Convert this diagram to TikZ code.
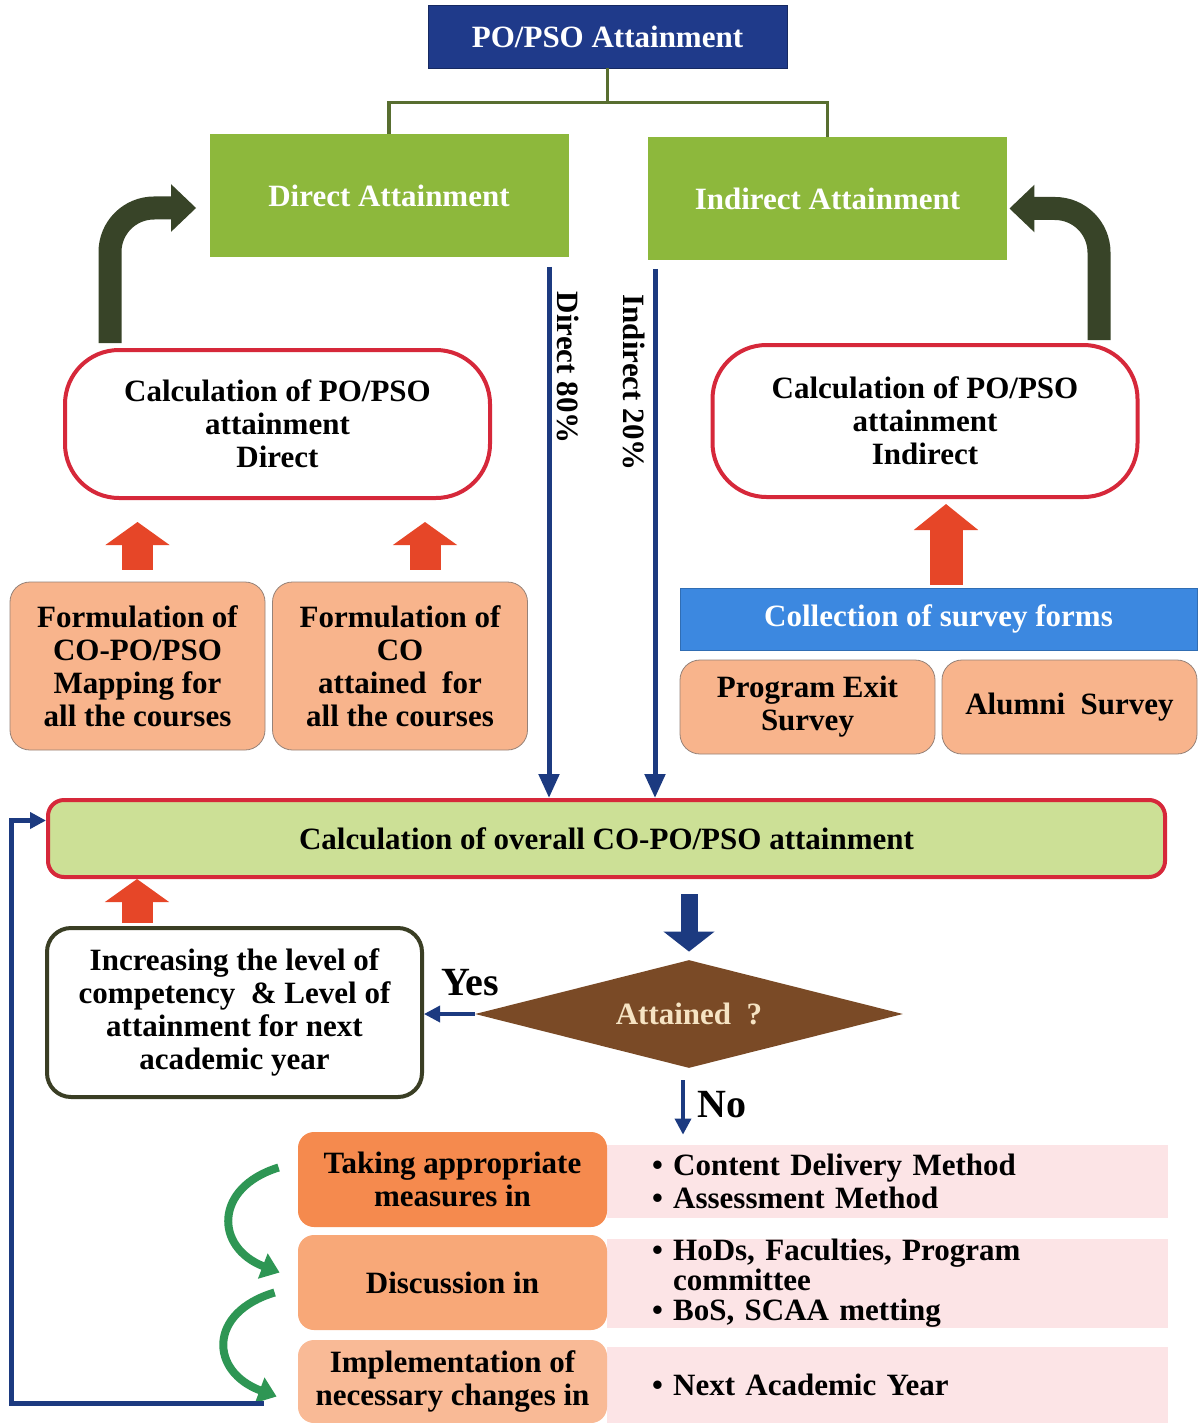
\documentclass[tikz,border=0pt]{standalone}
\usepackage{fontspec}
\setmainfont{Liberation Serif}
\usetikzlibrary{calc, shapes, arrows.meta}

\definecolor{titleblue}{RGB}{31,58,138}
\definecolor{attgreen}{RGB}{141,184,60}
\definecolor{treegreen}{RGB}{88,110,48}
\definecolor{bigdark}{RGB}{56,68,40}
\definecolor{ovalred}{RGB}{214,40,58}
\definecolor{salmon}{RGB}{248,180,140}
\definecolor{salmonline}{RGB}{150,130,120}
\definecolor{surveyblue}{RGB}{60,136,224}
\definecolor{upred}{RGB}{230,70,40}
\definecolor{lineblue}{RGB}{28,58,128}
\definecolor{overallgreen}{RGB}{204,224,150}
\definecolor{diabrown}{RGB}{122,74,38}
\definecolor{diatext}{RGB}{245,227,195}
\definecolor{boxolive}{RGB}{58,62,36}
\definecolor{takeorange}{RGB}{245,138,78}
\definecolor{discorange}{RGB}{248,168,120}
\definecolor{implorange}{RGB}{249,186,150}
\definecolor{bandpink}{RGB}{252,228,230}
\definecolor{arcgreen}{RGB}{46,150,84}

\begin{document}
\begin{tikzpicture}[x=0.5pt, y=-0.5pt, font=\fontsize{15.5}{16.5}\selectfont\bfseries]
\tikzstyle{box}=[draw, align=center, inner sep=2pt]
\tikzstyle{head}=[box, fill=titleblue, draw=titleblue!70!black, text=white, minimum width=179.5pt, minimum height=31.5pt]
\tikzstyle{attain}=[box, fill=attgreen, draw=none, text=white, minimum width=179.5pt, minimum height=61.5pt]
\tikzstyle{oval}=[box, fill=white, draw=ovalred, line width=2pt, rounded corners=27pt, minimum width=212.5pt, minimum height=75pt]
\tikzstyle{form}=[box, fill=salmon, draw=salmonline, rounded corners=10pt, minimum width=127.5pt]
\tikzstyle{stage}=[box, draw=none, rounded corners=8pt, minimum width=154.5pt, minimum height=47.5pt]
\tikzstyle{band}=[fill=bandpink, text width=235.5pt, inner xsep=22.5pt, inner ysep=0pt, align=left]
\tikzstyle{treeline}=[draw=treegreen, line width=1.75pt]
\tikzstyle{bigarrow}=[draw=bigdark, line width=11.5pt, rounded corners=22pt, -{Triangle[length=12.5pt,width=23pt]}]
\tikzstyle{redup}=[draw=upred, line width=15.5pt, -{Triangle[length=11.5pt,width=31.5pt]}]
\tikzstyle{bluearrow}=[draw=lineblue, line width=2.5pt, -{Triangle[length=12pt,width=10pt]}]
\tikzstyle{bluethin}=[draw=lineblue, line width=1.75pt, -{Triangle[length=8pt,width=8pt]}]
\tikzstyle{blueblock}=[draw=lineblue, line width=8.5pt, -{Triangle[length=10pt,width=25pt]}]
\tikzstyle{greenarc}=[draw=arcgreen, line width=4pt, -{Triangle[length=9pt,width=13pt]}]
\tikzstyle{answer}=[font=\fontsize{20}{22}\selectfont\bfseries]

\path[use as bounding box, fill=white] (0,0) rectangle (1199,1423);

\node[head]   (title)    at (607.5,36.5) {PO/PSO Attainment};
\node[attain] (direct)   at (389,196)    {Direct Attainment};
\node[attain] (indirect) at (827.5,198.5) {Indirect Attainment};
\node[oval, minimum height=74pt] (calcD) at (277.5,424) {Calculation of PO/PSO\\attainment\\Direct};
\node[oval, minimum height=76pt] (calcI) at (925,421)   {Calculation of PO/PSO\\attainment\\Indirect};
\node[form, minimum height=84pt] (formA) at (137.5,666) {Formulation of\\CO-PO/PSO\\Mapping for\\all the courses};
\node[form, minimum height=84pt] (formB) at (400,666)   {Formulation of\\CO\\attained\ \ for\\all the courses};
\node[box, fill=surveyblue, draw=surveyblue!80!black, text=white, minimum width=258.5pt, minimum height=31pt] (survey) at (938.5,619) {Collection of survey forms};
\node[form, minimum height=47pt] (exit)   at (807.5,707)  {Program Exit\\Survey};
\node[form, minimum height=47pt] (alumni) at (1069.5,707) {Alumni\ \ Survey};
\node[box, fill=overallgreen, draw=ovalred, line width=2pt, rounded corners=8pt, minimum width=558.5pt, minimum height=38.5pt] (overall) at (606.5,838.5) {Calculation of overall CO-PO/PSO attainment};
\node[diamond, fill=diabrown, text=diatext, aspect=4, minimum width=214pt, minimum height=54pt, inner sep=0pt] (attained) at (689,1014) {Attained\ \ ?};
\node[box, fill=white, draw=boxolive, line width=2pt, rounded corners=12pt, minimum width=187.5pt, minimum height=84.5pt] (incr) at (234.5,1012.5) {Increasing the level of\\competency\ \ \& Level of\\attainment for next\\academic year};
\node[band, minimum height=36.5pt] (list1) at (887.5,1181.5) {\textbullet\ Content Delivery Method\\\textbullet\ Assessment Method};
\node[band, minimum height=41.5pt, font=\fontsize{15.5}{15}\selectfont\bfseries] (list2) at (887.5,1283.5) {\textbullet\ HoDs, Faculties, Program\\\phantom{\textbullet\ }committee\\\textbullet\ BoS, SCAA metting};
\node[band, minimum height=38pt] (list3) at (887.5,1385) {\textbullet\ Next Academic Year};
\node[stage, fill=takeorange] (taking)  at (452.5,1179.5) {Taking appropriate\\measures in};
\node[stage, fill=discorange] (discuss) at (452.5,1282.5) {Discussion in};
\node[stage, fill=implorange, minimum height=41.5pt] (implement) at (452.5,1381.5) {Implementation of\\necessary changes in};
\node[answer] (yes) at (470,983)  {Yes};
\node[answer] (no)  at (722,1105) {No};

\coordinate (split) at ($(title.south)+(0,34)$);
\draw[treeline] (title.south) -- (split) -| (direct.north);
\draw[treeline] (split) -| (indirect.north);

\draw[bigarrow] ($(calcD.north)+(-167.5,-5)$) |- ($(direct.west)+(-13,12)$);
\draw[bigarrow] ($(calcI.north)+(174,-3)$) |- ($(indirect.east)+(2,10)$);

\coordinate (fb) at ($(formB.north)+(25,0)$);
\coordinate (sv) at ($(survey.north)+(7.5,-3)$);
\coordinate (iu) at ($(incr.north)+(-97.5,-3)$);
\draw[redup, shorten <=6pt] (formA.north) -- ($(formA.north |- calcD.south)+(0,22)$);
\draw[redup, shorten <=6pt] (fb) -- ($(fb |- calcD.south)+(0,22)$);
\draw[redup, line width=16.5pt, -{Triangle[length=13pt,width=31.5pt]}] (sv) -- ($(sv |- calcI.south)+(0,5)$);
\draw[redup] (iu) -- (iu |- overall.south);

\coordinate (d80) at ($(direct.south)+(160,9)$);
\coordinate (i20) at ($(indirect.south)+(-172.5,8.5)$);
\draw[bluearrow] (d80) -- (d80 |- overall.north) node[pos=0.19, rotate=-90, anchor=south, inner sep=3pt] (lbl80) {Direct 80\%};
\draw[bluearrow] (i20) -- (i20 |- overall.north) node[pos=0.215, rotate=-90, anchor=north, inner sep=4pt] (lbl20) {Indirect 20\%};

\draw[blueblock, shorten <=7.5pt, shorten >=4pt] (attained.north |- overall.south) -- (attained.north);
\draw[bluethin] (attained.west) -- (attained.west -| incr.east);
\coordinate (nofrom) at ($(attained.south)+(-6,12)$);
\draw[bluethin, shorten >=5pt] (nofrom) -- (nofrom |- list1.north);

\draw[greenarc] ($(taking.west)+(-19,-12)$) .. controls +(-65,20) and +(-65,-25) .. ($(discuss.west)+(-18,-10)$);
\draw[greenarc] ($(discuss.west)+(-23,10)$) .. controls +(-67,20) and +(-67,-25) .. ($(implement.west)+(-21,15)$);

\coordinate (loop) at ($(implement.west)+(-34,21.5)$);
\draw[bluethin, line width=2.5pt] (loop) -- ++(-252,0) |- ($(overall.west)+(0,-18)$);
\end{tikzpicture}
\end{document}
